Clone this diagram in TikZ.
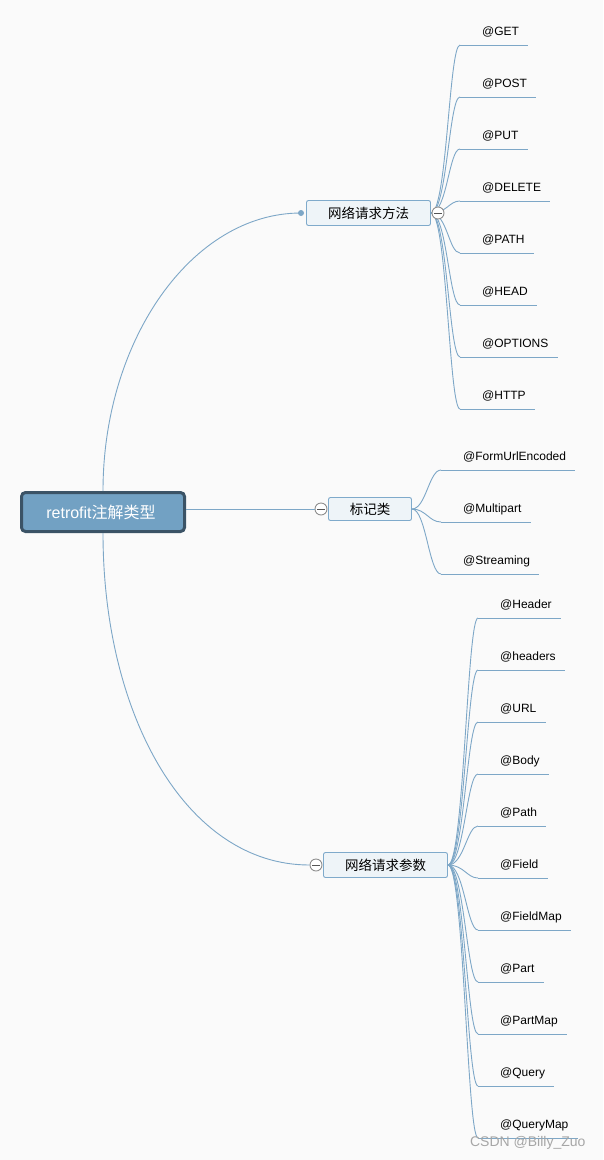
\documentclass[tikz,border=0pt]{standalone}
\usepackage{fontspec}
\setmainfont{Liberation Sans}
\newfontfamily\cjk{Noto Sans CJK SC}
\definecolor{linkblue}{HTML}{7DA7C7}
\definecolor{rootfill}{HTML}{72A1C3}
\definecolor{rootline}{HTML}{3B5366}
\definecolor{topicfill}{HTML}{EEF4F8}
\definecolor{topicline}{HTML}{7FAACB}
\definecolor{foldgray}{HTML}{8E8E8E}
\definecolor{paper}{HTML}{FAFAFA}

\begin{document}
\begin{tikzpicture}[x=1pt,y=-1pt,
  link/.style={draw=linkblue,line width=0.9pt},
  root/.style={draw=rootline,fill=rootfill,line width=3pt,rounded corners=4pt,minimum width=163pt,minimum height=39pt,text=white,font=\fontsize{16}{18}\selectfont},
  topic/.style={draw=topicline,fill=topicfill,line width=0.9pt,rounded corners=2pt,font=\cjk\fontsize{13.5}{16}\selectfont},
  fold/.style={circle,draw=foldgray,fill=white,line width=0.9pt,minimum size=12pt,inner sep=0pt,path picture={\draw[foldgray!60!black,line width=0.9pt] ([xshift=-4pt]path picture bounding box.center) -- ([xshift=4pt]path picture bounding box.center);}},
  dot/.style={circle,fill=linkblue,minimum size=6pt,inner sep=0pt},
  leaf/.style={anchor=south west,inner xsep=0pt,inner ysep=6pt,text height=9pt,text depth=3pt,font=\fontsize{12}{14}\selectfont,append after command={([xshift=-22pt]\tikzlastnode.south west) edge[link] ([xshift=9pt]\tikzlastnode.south east)}}]
  \fill[paper] (0,0) rectangle (603,1160);
  \useasboundingbox (0,0) rectangle (603,1160);
  %root
  \node[root] (root) at (103,512) {\hspace*{-4pt}retrofit{\cjk 注解类型}};
  %topics
  \node[topic,minimum width=124pt,minimum height=25pt] (m1) at (368.5,213) {网络请求方法};
  \node[topic,minimum width=83pt,minimum height=23pt] (m2) at (370,509) {标记类};
  \node[topic,minimum width=124pt,minimum height=25pt] (m3) at (385.5,865) {网络请求参数};
  \node[dot] (d1) at (301,213) {};
  \node[fold] (f2) at (321,509) {};
  \node[fold] (f3) at (316,865) {};
  \draw[link] (root.north) .. controls (103,340) and (192,213) .. (d1.center);
  \draw[link] (root.east |- f2.west) -- (f2.west);
  \draw[link] (root.south) .. controls (103,715) and (186,865) .. (f3.west);
  %methods
  \node[leaf] (get) at (482,45) {@GET};
  \node[leaf] (post) at (482,97) {@POST};
  \node[leaf] (put) at (482,149) {@PUT};
  \node[leaf] (delete) at (482,201) {@DELETE};
  \node[leaf] (path) at (482,253) {@PATH};
  \node[leaf] (head) at (482,305) {@HEAD};
  \node[leaf] (options) at (482,357) {@OPTIONS};
  \node[leaf] (http) at (482,409) {@HTTP};
  \foreach \l in {get,post,put,delete,path,head,options,http}
    \draw[link] (m1.east) .. controls +(16,0) and +(-11,0) .. ([xshift=-22pt]\l.south west);
  \node[fold] (f1) at (438,213) {};
  %markers
  \node[leaf] (formurl) at (463,470) {@FormUrlEncoded};
  \node[leaf] (multipart) at (463,522) {@Multipart};
  \node[leaf] (streaming) at (463,574) {@Streaming};
  \foreach \l in {formurl,multipart,streaming}
    \draw[link] (m2.east) .. controls +(14,0) and +(-12,0) .. ([xshift=-22pt]\l.south west);
  %params
  \node[leaf] (header) at (500,618) {@Header};
  \node[leaf] (headers) at (500,670) {@headers};
  \node[leaf] (url) at (500,722) {@URL};
  \node[leaf] (body) at (500,774) {@Body};
  \node[leaf] (ppath) at (500,826) {@Path};
  \node[leaf] (field) at (500,878) {@Field};
  \node[leaf] (fieldmap) at (500,930) {@FieldMap};
  \node[leaf] (part) at (500,982) {@Part};
  \node[leaf] (partmap) at (500,1034) {@PartMap};
  \node[leaf] (query) at (500,1086) {@Query};
  \node[leaf] (querymap) at (500,1138) {@QueryMap};
  \foreach \l in {header,headers,url,body,ppath,field,fieldmap,part,partmap,query,querymap}
    \draw[link] (m3.east) .. controls +(16,0) and +(-11,0) .. ([xshift=-22pt]\l.south west);
  %watermark
  \node[anchor=east,text=gray!70,font=\fontsize{14}{16}\selectfont] (mark) at (589,1143) {CSDN @Billy\_Zuo};
\end{tikzpicture}
\end{document}
